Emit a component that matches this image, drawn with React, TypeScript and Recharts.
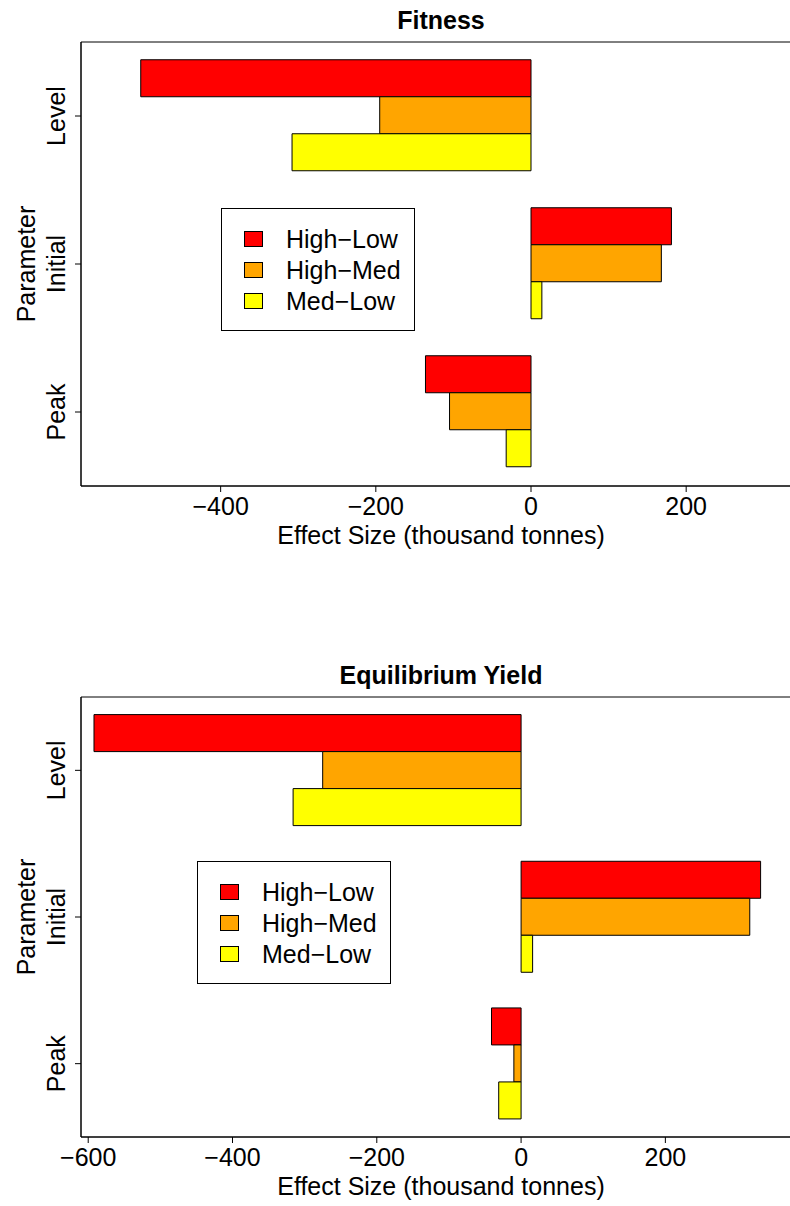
import { Bar, BarChart, Legend, ReferenceArea, XAxis, YAxis } from "recharts"

const params = ["Level", "Initial", "Peak"]
const seriesNames = ["High\u2212Low", "High\u2212Med", "Med\u2212Low"]
const seriesKeys = ["highLow", "highMed", "medLow"]
const seriesColors = ["#FF0000", "#FFA500", "#FFFF00"]

// effect sizes, thousand tonnes
const fitnessHighLow = [-503, 181, -136]
const fitnessHighMed = [-195, 168, -105]
const fitnessMedLow = [-308, 14, -32]

const yieldHighLow = [-592, 332, -41]
const yieldHighMed = [-275, 317, -10]
const yieldMedLow = [-316, 16, -31]

const fitnessTicks = [-400, -200, 0, 200]
const yieldTicks = [-600, -400, -200, 0, 200]

const FONT = '"Liberation Sans", Arial, Helvetica, sans-serif'

const toRows = (a: number[], b: number[], c: number[]) =>
  params.map((p, i) => ({ param: p, highLow: a[i], highMed: b[i], medLow: c[i] }))

const fitnessRows = toRows(fitnessHighLow, fitnessHighMed, fitnessMedLow)
const yieldRows = toRows(yieldHighLow, yieldHighMed, yieldMedLow)

const fmt = (v: number) => (v < 0 ? `\u2212${Math.abs(v)}` : `${v}`)

const ParamTick = (props: any) => {
  const { x, y, payload } = props
  return (
    <text
      x={x}
      y={y}
      transform={`rotate(-90 ${x} ${y})`}
      textAnchor="middle"
      fontFamily={FONT}
      fontSize={25}
      fill="#000"
    >
      {payload.value}
    </text>
  )
}

const LegendBox = () => (
  <div
    style={{
      position: "relative",
      boxSizing: "border-box",
      width: 194,
      height: 123,
      border: "1px solid #000",
      background: "#fff",
      fontFamily: FONT,
      fontSize: 25,
      color: "#000",
    }}
  >
    {seriesNames.map((name, i) => (
      <div key={name} style={{ position: "absolute", left: 22, top: 22 + i * 31, height: 16, display: "flex", alignItems: "center" }}>
        <span
          style={{
            display: "inline-block",
            boxSizing: "border-box",
            width: 19,
            height: 16,
            background: seriesColors[i],
            border: "1px solid #000",
          }}
        />
        <span style={{ marginLeft: 23, lineHeight: "16px", whiteSpace: "nowrap" }}>{name}</span>
      </div>
    ))}
  </div>
)

interface EffectChartProps {
  title: string
  rows: any[]
  domain: [number, number]
  ticks: number[]
  height: number
  top: number
  bottom: number
  legendLeft: number
  legendTop: number
}

function EffectChart({ title, rows, domain, ticks, height, top, bottom, legendLeft, legendTop }: EffectChartProps) {
  return (
    <BarChart
      width={802}
      height={height}
      data={rows}
      layout="vertical"
      margin={{ top, right: 1, bottom, left: 0 }}
      barCategoryGap="12%"
      barGap={0}
    >
      <XAxis
        type="number"
        domain={domain}
        ticks={ticks}
        interval={0}
        height={30}
        tickSize={6}
        tickMargin={5}
        tickFormatter={fmt}
        tick={{ fill: "#000", fontSize: 25, fontFamily: FONT }}
        tickLine={{ stroke: "#000" }}
        axisLine={{ stroke: "#000" }}
        label={(p: any) => (
          <text
            x={p.viewBox.x + p.viewBox.width / 2}
            y={p.viewBox.y + 58}
            textAnchor="middle"
            fontFamily={FONT}
            fontSize={25}
            fill="#000"
          >
            Effect Size (thousand tonnes)
          </text>
        )}
      />
      <YAxis
        type="category"
        dataKey="param"
        width={81}
        tickSize={6}
        tickMargin={10}
        tick={<ParamTick />}
        tickLine={{ stroke: "#000" }}
        axisLine={{ stroke: "#000" }}
        label={(p: any) => {
          const cx = 35
          const cy = p.viewBox.y + p.viewBox.height / 2
          return (
            <text
              x={cx}
              y={cy}
              transform={`rotate(-90 ${cx} ${cy})`}
              textAnchor="middle"
              fontFamily={FONT}
              fontSize={25}
              fill="#000"
            >
              Parameter
            </text>
          )
        }}
      />
      {/* plot frame (box) with the title above it */}
      <ReferenceArea
        x1={domain[0]}
        x2={domain[1]}
        fill="none"
        stroke="#000"
        strokeWidth={1}
        ifOverflow="visible"
        label={(p: any) => (
          <text
            x={p.viewBox.x + p.viewBox.width / 2}
            y={p.viewBox.y - 13}
            textAnchor="middle"
            fontFamily={FONT}
            fontSize={25}
            fontWeight="bold"
            fill="#000"
          >
            {title}
          </text>
        )}
      />
      <Legend
        layout="vertical"
        align="center"
        verticalAlign="middle"
        wrapperStyle={{ left: legendLeft, top: legendTop, width: 194, height: 123 }}
        content={() => <LegendBox />}
      />
      {seriesKeys.map((k, i) => (
        <Bar
          key={k}
          dataKey={k}
          name={seriesNames[i]}
          fill={seriesColors[i]}
          stroke="#000"
          strokeWidth={1}
          isAnimationActive={false}
        />
      ))}
    </BarChart>
  )
}

export default function App() {
  return (
    <div style={{ position: "absolute", left: 0, top: 0, width: 790, height: 1206, overflow: "hidden", background: "#fff" }}>
      <div style={{ position: "absolute", left: 0, top: 0 }}>
        <EffectChart
          title="Fitness"
          rows={fitnessRows}
          domain={[-580, 348]}
          ticks={fitnessTicks}
          height={560}
          top={42}
          bottom={44}
          legendLeft={221}
          legendTop={208}
        />
      </div>
      <div style={{ position: "absolute", left: 0, top: 640 }}>
        <EffectChart
          title="Equilibrium Yield"
          rows={yieldRows}
          domain={[-610, 388]}
          ticks={yieldTicks}
          height={566}
          top={57}
          bottom={39}
          legendLeft={197}
          legendTop={221}
        />
      </div>
    </div>
  )
}
